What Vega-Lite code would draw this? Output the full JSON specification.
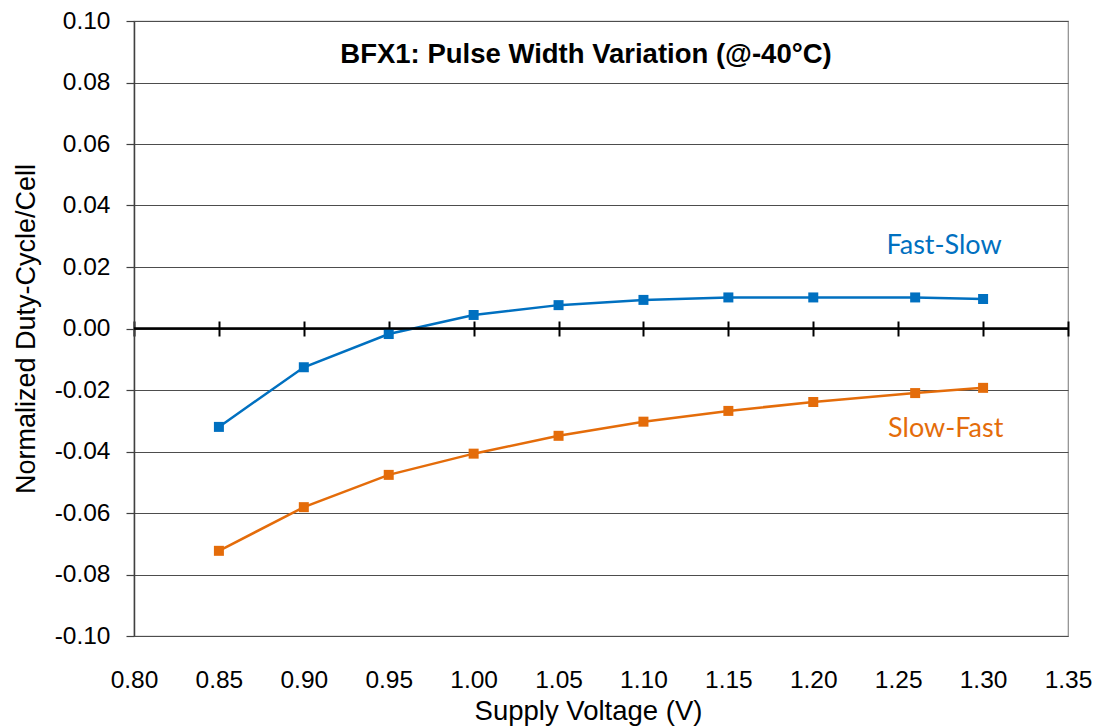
{
  "$schema": "https://vega.github.io/schema/vega-lite/v6.json",
  "width": 934,
  "height": 615,
  "autosize": {"type": "none"},
  "padding": {"left": 134, "top": 21, "right": 31, "bottom": 92},
  "background": "white",
  "title": {
    "text": "BFX1: Pulse Width Variation (@-40°C)",
    "font": "Liberation Sans",
    "fontSize": 27.5,
    "fontWeight": "bold",
    "color": "#000000",
    "anchor": "middle",
    "baseline": "alphabetic",
    "offset": -82,
    "dx": -15
  },
  "config": {
    "view": {"stroke": "#8c8c8c", "strokeWidth": 1.2},
    "axis": {
      "labelFont": "Liberation Sans",
      "titleFont": "Liberation Sans",
      "labelColor": "#000000",
      "titleColor": "#000000",
      "titleFontWeight": "normal"
    }
  },
  "datasets": {
    "series": [
      {"v": 0.85, "val": -0.032, "series": "Fast-Slow"},
      {"v": 0.90, "val": -0.0126, "series": "Fast-Slow"},
      {"v": 0.95, "val": -0.0018, "series": "Fast-Slow"},
      {"v": 1.00, "val": 0.0044, "series": "Fast-Slow"},
      {"v": 1.05, "val": 0.0076, "series": "Fast-Slow"},
      {"v": 1.10, "val": 0.0093, "series": "Fast-Slow"},
      {"v": 1.15, "val": 0.0101, "series": "Fast-Slow"},
      {"v": 1.20, "val": 0.0101, "series": "Fast-Slow"},
      {"v": 1.26, "val": 0.0101, "series": "Fast-Slow"},
      {"v": 1.30, "val": 0.0096, "series": "Fast-Slow"},
      {"v": 0.85, "val": -0.0723, "series": "Slow-Fast"},
      {"v": 0.90, "val": -0.0581, "series": "Slow-Fast"},
      {"v": 0.95, "val": -0.0476, "series": "Slow-Fast"},
      {"v": 1.00, "val": -0.0407, "series": "Slow-Fast"},
      {"v": 1.05, "val": -0.0349, "series": "Slow-Fast"},
      {"v": 1.10, "val": -0.0303, "series": "Slow-Fast"},
      {"v": 1.15, "val": -0.0268, "series": "Slow-Fast"},
      {"v": 1.20, "val": -0.0239, "series": "Slow-Fast"},
      {"v": 1.26, "val": -0.0210, "series": "Slow-Fast"},
      {"v": 1.30, "val": -0.0193, "series": "Slow-Fast"}
    ],
    "labels": [
      {"v": 1.277, "val": 0.0242, "series": "Fast-Slow"},
      {"v": 1.278, "val": -0.0353, "series": "Slow-Fast"}
    ],
    "zero": [{"val": 0}]
  },
  "resolve": {"axis": {"x": "independent"}},
  "layer": [
    {
      "data": {"name": "series"},
      "mark": {"type": "line", "strokeWidth": 2.5, "point": {"shape": "square", "size": 100, "filled": true, "opacity": 1}},
      "encoding": {
        "x": {
          "field": "v", "type": "quantitative",
          "scale": {"domain": [0.8, 1.35], "nice": false, "zero": false},
          "axis": {
            "title": "Supply Voltage (V)",
            "values": [0.8, 0.85, 0.9, 0.95, 1.0, 1.05, 1.1, 1.15, 1.2, 1.25, 1.3, 1.35],
            "format": ".2f",
            "labelFontSize": 24.5,
            "titleFontSize": 27.5,
            "titleX": 454,
            "ticks": false,
            "domain": false,
            "grid": false,
            "labelPadding": 32,
            "titlePadding": 6,
            "labelFlush": false,
            "labelOverlap": false
          }
        },
        "y": {
          "field": "val", "type": "quantitative",
          "scale": {"domain": [-0.1, 0.1], "nice": false},
          "axis": {
            "title": "Normalized Duty-Cycle/Cell",
            "values": [-0.1, -0.08, -0.06, -0.04, -0.02, 0, 0.02, 0.04, 0.06, 0.08, 0.1],
            "format": ".2f",
            "labelExpr": "replace(datum.label, '\u2212', '-')",
            "labelFontSize": 24.5,
            "titleFontSize": 27,
            "tickSize": 8,
            "tickColor": "#404040",
            "tickWidth": 1.2,
            "domainColor": "#404040",
            "domainWidth": 1.5,
            "grid": true,
            "gridColor": "#4d4d4d",
            "gridWidth": 1,
            "labelPadding": 16,
            "titlePadding": 14,
            "labelOverlap": false
          }
        },
        "color": {
          "field": "series", "type": "nominal",
          "scale": {"domain": ["Fast-Slow", "Slow-Fast"], "range": ["#0070C0", "#E46C0A"]},
          "legend": null
        },
        "detail": {"field": "series"}
      }
    },
    {
      "data": {"name": "zero"},
      "mark": {"type": "rule", "color": "#000000", "strokeWidth": 2.5},
      "encoding": {"y": {"field": "val", "type": "quantitative"}}
    },
    {
      "data": {"name": "labels"},
      "mark": {"type": "text", "font": "Lato", "fontSize": 27, "align": "center", "baseline": "alphabetic"},
      "encoding": {
        "x": {
          "field": "v", "type": "quantitative",
          "axis": {
            "orient": "top",
            "offset": -315,
            "values": [0.8, 0.85, 0.9, 0.95, 1.0, 1.05, 1.1, 1.15, 1.2, 1.25, 1.3, 1.35],
            "tickSize": 15,
            "tickWidth": 2,
            "tickColor": "#000000",
            "labels": false,
            "domain": false,
            "grid": false,
            "title": null
          }
        },
        "y": {"field": "val", "type": "quantitative"},
        "text": {"field": "series"},
        "color": {"field": "series", "type": "nominal", "legend": null}
      }
    }
  ]
}
